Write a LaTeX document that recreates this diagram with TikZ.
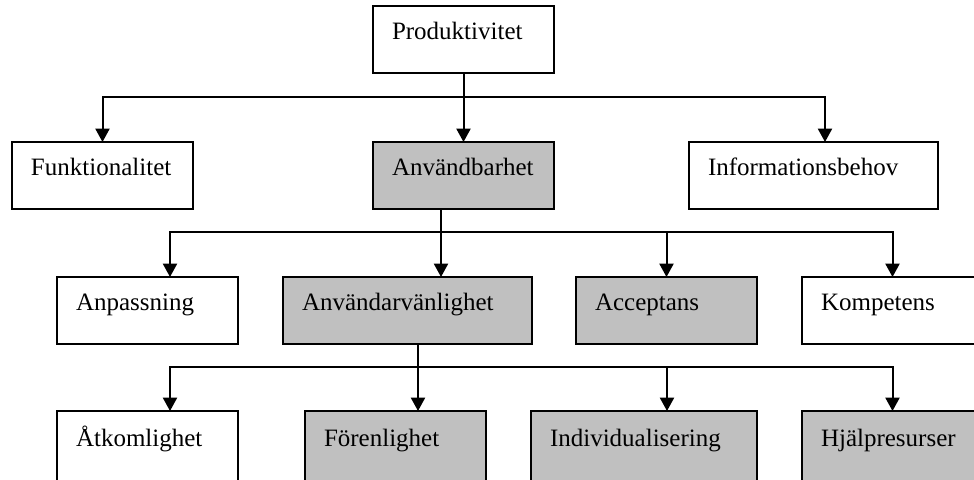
\documentclass[tikz,border=0pt]{standalone}
\usepackage{fontspec}
\setmainfont{Liberation Serif}
\usepackage{xcolor}
\usepackage{tikz}
\usetikzlibrary{positioning}
\usetikzlibrary{arrows.meta}
\definecolor{boxgray}{RGB}{192,192,192}

\begin{document}
\begin{tikzpicture}[line width=1.5pt, >={Triangle[length=10pt,width=10.5pt]}]
  \tikzset{Box/.style={rectangle, draw, outer sep=0pt, inner xsep=14.25pt, align=left, text width=107.25pt, minimum height=50.25pt, text height=7pt, text depth=7pt, font=\fontsize{18.75}{22}\selectfont}};
  \tikzset{BoxWide/.style={Box, text width=158.25pt}};
  \tikzset{BoxMid/.style={Box, text width=141pt}};
  \tikzset{Gray/.style={fill=boxgray}};
  \clip (0,0) rectangle (730.5pt,-359.25pt);
  \node[Box] (prod) at (347.625pt,-29.625pt) {Produktivitet};
  \node[Box,Gray][below=51.75pt of prod] (anv) {Användbarhet};
  \node[Box][left=135pt of anv] (funk) {Funktionalitet};
  \node[BoxWide][right=101.25pt of anv] (info) {Informationsbehov};
  \node[BoxWide,Gray][below=51pt of anv, xshift=-42pt] (anvv) {Användarvänlighet};
  \node[Box][left=33.75pt of anvv] (anp) {Anpassning};
  \node[Box,Gray][right=33pt of anvv] (acc) {Acceptans};
  \node[Box][right=33.75pt of acc] (komp) {Kompetens};
  \node[Box,Gray,minimum height=53pt][below=50.25pt of anvv, xshift=-9pt] (foren) {Förenlighet};
  \node[Box,minimum height=53pt][left=50.25pt of foren] (atk) {Åtkomlighet};
  \node[BoxMid,Gray,minimum height=53pt][right=33.75pt of foren] (indiv) {Individualisering};
  \node[Box,Gray,minimum height=53pt][right=33.75pt of indiv] (hjalp) {Hjälpresurser};
  % first level
  \coordinate (b1) at ([yshift=-18pt]prod.south);
  \draw[->] (prod) -- (anv);
  \draw[->] (b1) -| (funk.north);
  \draw[->] (b1) -| ([xshift=8.625pt]info.north);
  % second level
  \coordinate (b2) at ([xshift=-16.875pt,yshift=-17.25pt]anv.south);
  \draw[->] (b2 |- anv.south) -- (b2 |- anvv.north);
  \draw[->] (b2) -| ([xshift=16.875pt]anp.north);
  \draw[->] (b2) -| (acc.north);
  \draw[->] (b2) -| (komp.north);
  % third level
  \coordinate (b3) at ([xshift=7.875pt,yshift=-17.25pt]anvv.south);
  \draw[->] (b3 |- anvv.south) -- (b3 |- foren.north);
  \draw[->] (b3) -| ([xshift=16.875pt]atk.north);
  \draw[->] (b3) -| ([xshift=17.25pt]indiv.north);
  \draw[->] (b3) -| (hjalp.north);
\end{tikzpicture}
\end{document}
